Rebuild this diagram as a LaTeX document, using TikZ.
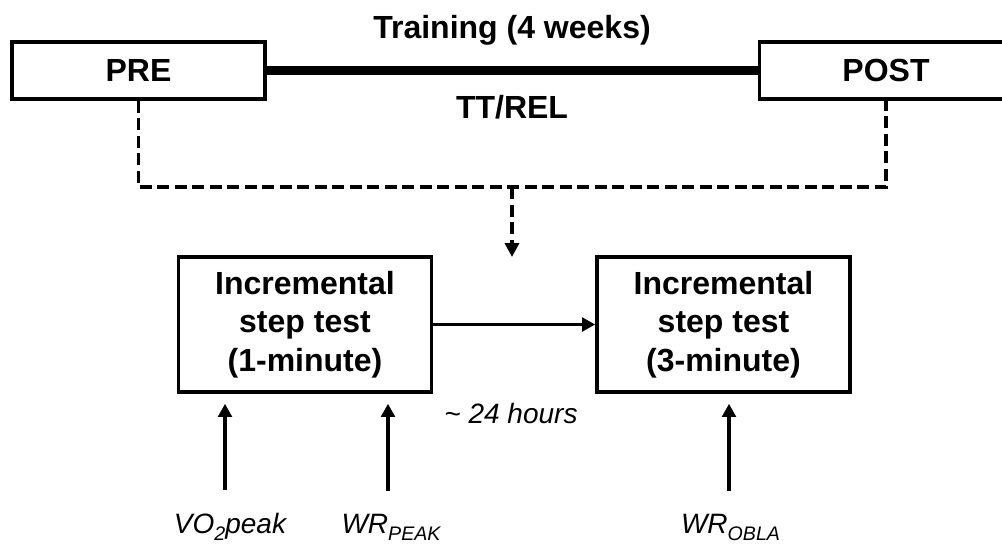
\documentclass[tikz,border=0pt]{standalone}
\usepackage{fontspec}
\setmainfont{Liberation Sans}
\usetikzlibrary{arrows.meta}
\newcommand{\lowsub}[1]{\raisebox{-0.27em}{\fontsize{19.6}{20}\selectfont #1}}
\begin{document}
\begin{tikzpicture}[x=1pt,y=-1pt,
  phasebox/.style={draw,line width=3.6pt,minimum width=253pt,minimum height=57pt,inner sep=0pt,
    font=\fontsize{32}{38}\bfseries\selectfont},
  testbox/.style={draw,line width=3.6pt,minimum width=253pt,minimum height=135pt,inner sep=0pt,align=center,
    font=\fontsize{32}{38.5}\bfseries\selectfont},
  boldlabel/.style={anchor=base,inner sep=0pt,font=\fontsize{32}{38}\bfseries\selectfont},
  itlabel/.style={anchor=base,inner sep=0pt,font=\fontsize{28}{32}\itshape\selectfont},
  arr/.style={line width=3.8pt,-{Triangle[length=13pt,width=13.5pt]}},
  dashline/.style={line width=3.8pt,dash pattern=on 12pt off 5.5pt},
  dasharr/.style={dashline,-{Triangle[length=14pt,width=14pt]}}]
\useasboundingbox (0,0) rectangle (1002,546);
% top row
\node[phasebox] (pre) at (138.5,70.5) {PRE};
\node[phasebox] (post) at (886,70.5) {POST};
\draw[line width=9.5pt] (pre.east) -- (post.west);
\node[boldlabel] (train) at (512,38) {Training (4 weeks)};
\node[boldlabel] (ttrel) at (512,118) {TT/REL};
% dashed connection
\coordinate (j) at (512,187);
\coordinate (jend) at (512,257);
\draw[dashline] (pre.south) |- (j) -| (post.south);
\draw[dasharr] (j) -- (jend);
% test boxes
\node[testbox] (b1) at (305,324.5) {Incremental\\step test\\(1-minute)};
\node[testbox] (b2) at (723.5,324.5) {Incremental\\step test\\(3-minute)};
\draw[arr] (b1.east) -- (b2.west);
\node[itlabel] (hrs) at (511,423) {\textasciitilde{} 24 hours};
% bottom labels
\node[itlabel] (vo) at (230,533) {VO\lowsub{2}peak};
\node[itlabel] (wrp) at (391,533) {WR\lowsub{PEAK}};
\node[itlabel] (wro) at (730.5,533) {WR\lowsub{OBLA}};
\draw[arr,shorten >=10pt] ([xshift=-5pt,yshift=23pt]vo.north) -- ([xshift=-5pt]vo.north |- b1.south);
\draw[arr,shorten >=10pt] ([xshift=-3pt,yshift=23pt]wrp.north) -- ([xshift=-3pt]wrp.north |- b1.south);
\draw[arr,shorten >=10pt] ([xshift=-1.5pt,yshift=23pt]wro.north) -- ([xshift=-1.5pt]wro.north |- b2.south);
\end{tikzpicture}
\end{document}
